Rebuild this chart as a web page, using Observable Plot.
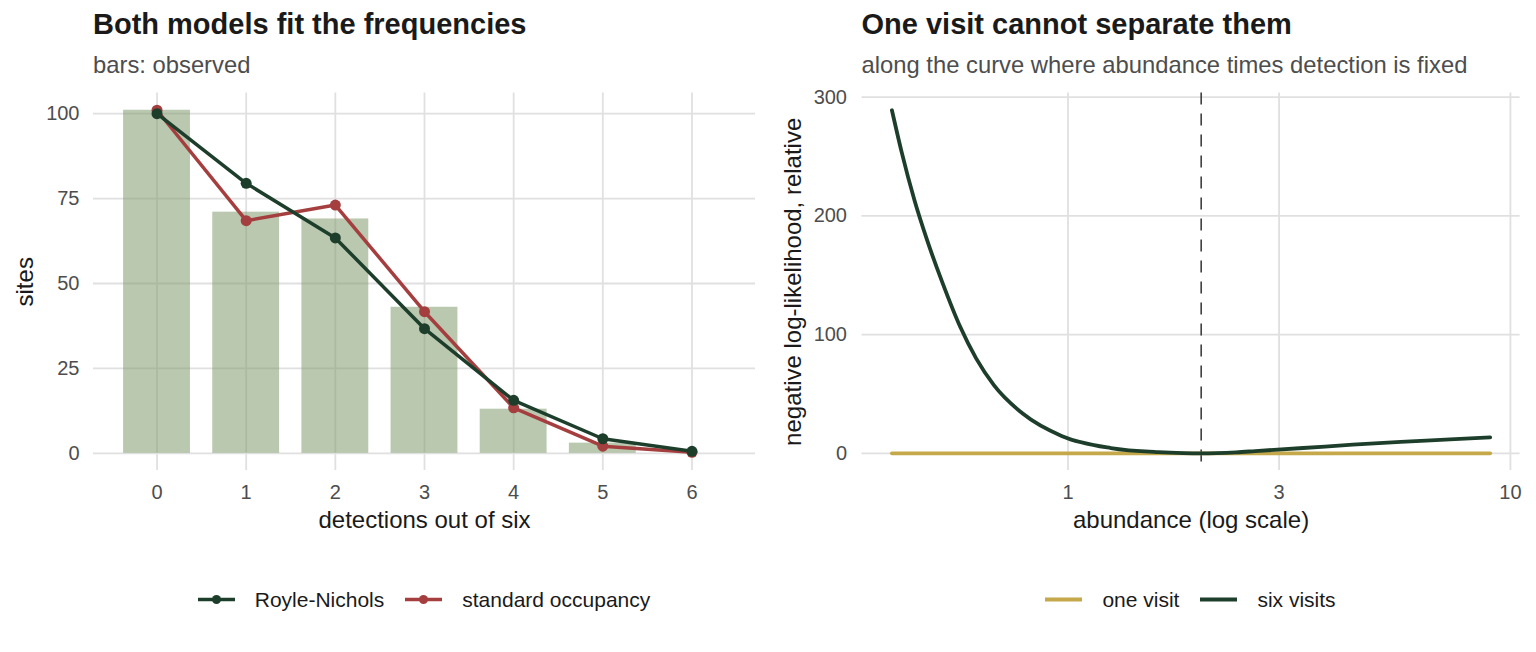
<!DOCTYPE html>
<html>
<head>
<meta charset="utf-8">
<script src="https://cdn.jsdelivr.net/npm/d3@7"></script>
<script src="https://cdn.jsdelivr.net/npm/@observablehq/plot@0.6"></script>
<style>
  html, body { margin: 0; padding: 0; background: #ffffff; }
  #figure { position: relative; width: 1536px; height: 652px; font-family: "Liberation Sans", Arial, sans-serif; }
  .title { position: absolute; font-size: 29px; font-weight: bold; line-height: 29px; color: #1a1a1a; white-space: nowrap; }
  .subtitle { position: absolute; font-size: 23.8px; line-height: 23.8px; color: #4d4d4d; white-space: nowrap; }
  .panel { position: absolute; top: 80px; }
  .legend { position: absolute; top: 589px; display: flex; justify-content: center; align-items: center; font-size: 21px; line-height: 21px; color: #1a1a1a; }
  .legend .item { display: flex; align-items: center; margin: 0 10.5px; }
  .legend svg { margin-right: 20px; display: block; }
</style>
</head>
<body>
<div id="figure">
  <div class="title" style="left:93px; top:9.8px;">Both models fit the frequencies</div>
  <div class="subtitle" style="left:93px; top:53.2px;">bars: observed</div>
  <div class="title" style="left:861.5px; top:9.8px;">One visit cannot separate them</div>
  <div class="subtitle" style="left:861.5px; top:53.2px;">along the curve where abundance times detection is fixed</div>
  <div class="panel" id="left" style="left:0px;"></div>
  <div class="panel" id="right" style="left:768px;"></div>
  <div class="legend" id="legend-left" style="left:93px; width:662px;"></div>
  <div class="legend" id="legend-right" style="left:861.5px; width:658px;"></div>
</div>
<script>
// Detection-history frequencies: how many sites recorded k detections out of six visits
const detections = [0, 1, 2, 3, 4, 5, 6];
const observedSites = [101, 71, 69, 43, 13, 3, 0];
const royleNichols = [100, 79.5, 63.4, 36.7, 15.6, 4.3, 0.6];
const standardOccupancy = [101, 68.5, 73.1, 41.7, 13.4, 2.1, 0.3];
const detectionTicks = [0, 1, 2, 3, 4, 5, 6];
const sitesTicks = [0, 25, 50, 75, 100];

// Profile of the negative log-likelihood along abundance x detection = constant
const abundance = [0.40, 0.42, 0.45, 0.48, 0.52, 0.57, 0.62, 0.68, 0.79, 0.97, 1.25, 1.60, 1.82, 2.00, 2.40, 2.65, 3.40, 4.40, 5.65, 7.30, 9.00];
const nllSixVisits = [289, 255, 213, 180, 144, 107, 80, 57.5, 33.5, 14.5, 4.5, 1.0, 0.2, 0, 0.9, 1.9, 4.5, 7.3, 9.7, 11.7, 13.4];
const oneVisitAbundance = [0.40, 9.00];
const nllOneVisit = [0, 0];
const trueAbundance = [2];
const abundanceTicks = [1, 3, 10];
const nllTicks = [0, 100, 200, 300];

const GREEN = "#1e3e2c";
const RED = "#a53f3f";
const GOLD = "#c4a84a";
const BAR = "#7f9b6e";
const GRID = "#e0e0e0";
const FONT = "'Liberation Sans', Arial, sans-serif";

// ggplot-style 5% expansion of a continuous range
function expand([lo, hi], f = 0.05) {
  const pad = (hi - lo) * f;
  return [lo - pad, hi + pad];
}

const barWidth = 0.75;
const observed = detections.map((k, i) => ({k, n: observedSites[i]}));
const rn = detections.map((k, i) => ({k, n: royleNichols[i]}));
const occ = detections.map((k, i) => ({k, n: standardOccupancy[i]}));

const leftY = expand([0, d3.max([...observedSites, ...royleNichols, ...standardOccupancy])]);
const leftX = expand([d3.min(detections) - barWidth / 2, d3.max(detections) + barWidth / 2]);

const common = {
  width: 768,
  height: 480,
  marginTop: 12.6,
  marginBottom: 90,
  style: {fontFamily: FONT, fontSize: "20px", color: "#4d4d4d", background: "transparent", overflow: "visible"}
};

// axis titles, centred on the plotting frame
const xTitle = (t) => Plot.text([t], {text: d => d, frameAnchor: "bottom", textAnchor: "middle", lineAnchor: "middle", dy: 50, fontSize: 24, fill: "#1a1a1a"});
const yTitle = (t) => Plot.text([t], {text: d => d, frameAnchor: "left", textAnchor: "middle", lineAnchor: "middle", dx: -68.5, rotate: -90, fontSize: 24, fill: "#1a1a1a"});

const left = Plot.plot({
  ...common,
  marginLeft: 93,
  marginRight: 13,
  x: {type: "linear", domain: leftX},
  y: {domain: leftY},
  marks: [
    Plot.gridY(sitesTicks, {stroke: GRID, strokeOpacity: 1, strokeWidth: 1.8}),
    Plot.gridX(detectionTicks, {stroke: GRID, strokeOpacity: 1, strokeWidth: 1.8}),
    Plot.rect(observed, {x1: d => d.k - barWidth / 2, x2: d => d.k + barWidth / 2, y1: 0, y2: "n", fill: BAR, fillOpacity: 0.55}),
    Plot.line(occ, {x: "k", y: "n", stroke: RED, strokeWidth: 3.5}),
    Plot.dot(occ, {x: "k", y: "n", r: 5.5, fill: RED}),
    Plot.line(rn, {x: "k", y: "n", stroke: GREEN, strokeWidth: 3.5}),
    Plot.dot(rn, {x: "k", y: "n", r: 5.5, fill: GREEN}),
    Plot.axisY(sitesTicks, {tickSize: 0, tickPadding: 14, label: null, fontSize: 20}),
    Plot.axisX(detectionTicks, {tickSize: 0, tickPadding: 14, label: null, fontSize: 20, tickFormat: d => String(d)}),
    xTitle("detections out of six"),
    yTitle("sites")
  ]
});
document.getElementById("left").appendChild(left);

const six = abundance.map((a, i) => ({a, v: nllSixVisits[i]}));
const one = oneVisitAbundance.map((a, i) => ({a, v: nllOneVisit[i]}));
const logExt = expand([Math.log10(d3.min(abundance)), Math.log10(d3.max(abundance))]);
const rightY = expand([d3.min([...nllSixVisits, ...nllOneVisit]), d3.max(nllSixVisits)]);

const right = Plot.plot({
  ...common,
  marginLeft: 93.5,
  marginRight: 16.4,
  x: {type: "log", domain: logExt.map(v => Math.pow(10, v))},
  y: {domain: rightY},
  marks: [
    Plot.gridY(nllTicks, {stroke: GRID, strokeOpacity: 1, strokeWidth: 1.8}),
    Plot.gridX(abundanceTicks, {stroke: GRID, strokeOpacity: 1, strokeWidth: 1.8}),
    Plot.ruleX(trueAbundance, {stroke: "#333333", strokeWidth: 1.5, strokeDasharray: "12,9"}),
    Plot.line(one, {x: "a", y: "v", stroke: GOLD, strokeWidth: 3.8}),
    Plot.line(six, {x: "a", y: "v", stroke: GREEN, strokeWidth: 3.8, curve: "monotone-x"}),
    Plot.axisY(nllTicks, {tickSize: 0, tickPadding: 15, label: null, fontSize: 20}),
    Plot.axisX(abundanceTicks, {tickSize: 0, tickPadding: 14, label: null, fontSize: 20, tickFormat: d => String(d)}),
    xTitle("abundance (log scale)"),
    yTitle("negative log-likelihood, relative")
  ]
});
document.getElementById("right").appendChild(right);

// Legends: line-and-point keys for the fitted models, line keys for the profiles
function legend(id, items) {
  const host = document.getElementById(id);
  for (const it of items) {
    const item = document.createElement("div");
    item.className = "item";
    const dot = it.dot ? `<circle cx="18.5" cy="10.5" r="4.5" fill="${it.color}"/>` : "";
    item.innerHTML = `<svg width="37" height="21"><line x1="0" x2="37" y1="10.5" y2="10.5" stroke="${it.color}" stroke-width="${it.width}"/>${dot}</svg><span>${it.label}</span>`;
    host.appendChild(item);
  }
}
legend("legend-left", [
  {label: "Royle-Nichols", color: GREEN, dot: true, width: 3.5},
  {label: "standard occupancy", color: RED, dot: true, width: 3.5}
]);
legend("legend-right", [
  {label: "one visit", color: GOLD, dot: false, width: 4},
  {label: "six visits", color: GREEN, dot: false, width: 4}
]);
</script>
</body>
</html>
